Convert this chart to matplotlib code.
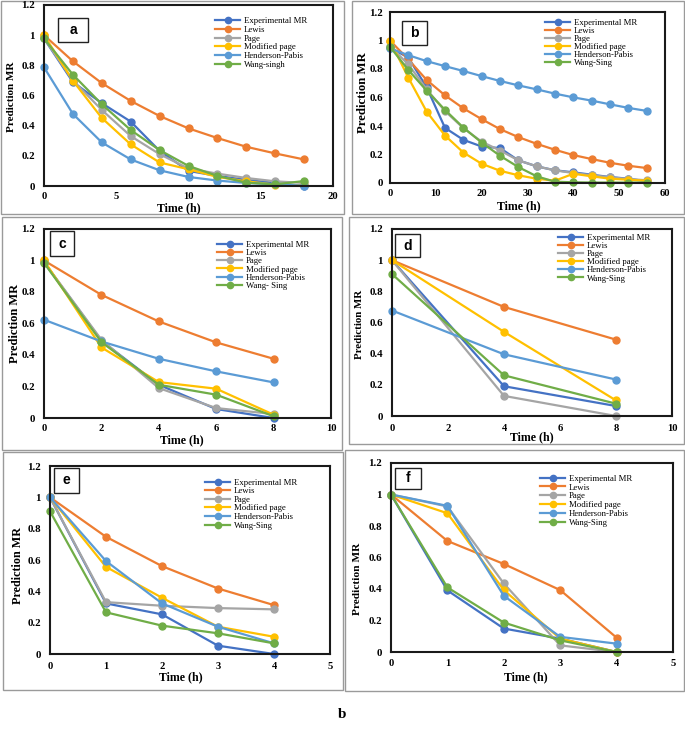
import matplotlib
matplotlib.use("Agg")
import matplotlib.pyplot as plt
from matplotlib.patches import Rectangle

# ---------------- data ----------------
series_names = ["Experimental MR", "Lewis", "Page", "Modified page", "Henderson-Pabis"]
wang_names = {"a": "Wang-singh", "b": "Wang-Sing", "c": "Wang- Sing",
              "d": "Wang-Sing", "e": "Wang-Sing", "f": "Wang-Sing"}
colors = ["#4472C4", "#ED7D31", "#A5A5A5", "#FFC000", "#5B9BD5", "#70AD47"]

time_a = [0, 2, 4, 6, 8, 10, 12, 14, 16, 18]
exp_a = [0.978, 0.689, 0.549, 0.427, 0.233, 0.100, 0.067, 0.040, 0.020, 0.000]
lewis_a = [1.000, 0.827, 0.682, 0.564, 0.464, 0.382, 0.318, 0.260, 0.216, 0.176]
page_a = [0.980, 0.700, 0.504, 0.331, 0.211, 0.116, 0.082, 0.053, 0.031, 0.020]
modpage_a = [1.000, 0.698, 0.451, 0.276, 0.156, 0.111, 0.060, 0.031, 0.009, 0.004]
hp_a = [0.787, 0.478, 0.289, 0.176, 0.104, 0.060, 0.036, 0.020, 0.011, 0.002]
wang_a = [0.978, 0.738, 0.542, 0.371, 0.238, 0.133, 0.067, 0.022, 0.011, 0.033]

time_b = [0, 4, 8, 12, 16, 20, 24, 28, 32, 36, 40, 44, 48, 52, 56]
exp_b = [0.950, 0.880, 0.671, 0.387, 0.303, 0.256, 0.245, 0.159, 0.117, 0.089, 0.075, 0.058, 0.042, 0.030, 0.012]
lewis_b = [1.000, 0.867, 0.723, 0.615, 0.524, 0.448, 0.378, 0.322, 0.275, 0.233, 0.196, 0.168, 0.142, 0.121, 0.105]
page_b = [0.960, 0.832, 0.657, 0.505, 0.385, 0.290, 0.228, 0.159, 0.117, 0.089, 0.070, 0.054, 0.040, 0.028, 0.019]
modpage_b = [1.000, 0.739, 0.501, 0.333, 0.214, 0.135, 0.086, 0.054, 0.030, 0.016, 0.065, 0.047, 0.030, 0.023, 0.016]
hp_b = [0.944, 0.897, 0.855, 0.820, 0.786, 0.750, 0.716, 0.685, 0.657, 0.627, 0.601, 0.578, 0.552, 0.527, 0.506]
wang_b = [0.956, 0.793, 0.648, 0.513, 0.389, 0.284, 0.191, 0.112, 0.047, 0.009, 0.005, 0.003, 0.003, 0.003, 0.003]

time_c = [0, 2, 4, 6, 8]
exp_c = [0.990, 0.490, 0.211, 0.057, 0.000]
lewis_c = [1.000, 0.782, 0.613, 0.480, 0.376]
page_c = [0.990, 0.497, 0.190, 0.063, 0.025]
modpage_c = [1.000, 0.448, 0.228, 0.186, 0.021]
hp_c = [0.624, 0.486, 0.376, 0.296, 0.226]
wang_c = [0.985, 0.482, 0.211, 0.148, 0.011]

time_d = [0, 4, 8]
exp_d = [1.000, 0.191, 0.064]
lewis_d = [1.000, 0.700, 0.490]
page_d = [1.000, 0.129, 0.000]
modpage_d = [1.000, 0.540, 0.100]
hp_d = [0.677, 0.396, 0.234]
wang_d = [0.911, 0.261, 0.079]

time_e = [0, 1, 2, 3, 4]
exp_e = [1.000, 0.323, 0.253, 0.053, 0.000]
lewis_e = [1.000, 0.748, 0.561, 0.418, 0.312]
page_e = [1.000, 0.331, 0.308, 0.293, 0.285]
modpage_e = [1.000, 0.556, 0.359, 0.174, 0.110]
hp_e = [1.000, 0.593, 0.323, 0.174, 0.068]
wang_e = [0.911, 0.266, 0.181, 0.132, 0.068]

time_f = [0, 1, 2, 3, 4]
exp_f = [1.000, 0.391, 0.149, 0.085, 0.000]
lewis_f = [1.000, 0.705, 0.559, 0.393, 0.091]
page_f = [1.000, 0.924, 0.435, 0.042, 0.000]
modpage_f = [1.000, 0.881, 0.393, 0.085, 0.000]
hp_f = [1.000, 0.928, 0.357, 0.096, 0.053]
wang_f = [1.000, 0.410, 0.187, 0.074, 0.000]

yticks = [0, 0.2, 0.4, 0.6, 0.8, 1.0, 1.2]
ytick_labels = ["0", "0.2", "0.4", "0.6", "0.8", "1", "1.2"]
xticks = {"a": [0, 5, 10, 15, 20], "b": [0, 10, 20, 30, 40, 50, 60],
          "c": [0, 2, 4, 6, 8, 10], "d": [0, 2, 4, 6, 8, 10],
          "e": [0, 1, 2, 3, 4, 5], "f": [0, 1, 2, 3, 4, 5]}

panels = {
    "a": (time_a, [exp_a, lewis_a, page_a, modpage_a, hp_a, wang_a]),
    "b": (time_b, [exp_b, lewis_b, page_b, modpage_b, hp_b, wang_b]),
    "c": (time_c, [exp_c, lewis_c, page_c, modpage_c, hp_c, wang_c]),
    "d": (time_d, [exp_d, lewis_d, page_d, modpage_d, hp_d, wang_d]),
    "e": (time_e, [exp_e, lewis_e, page_e, modpage_e, hp_e, wang_e]),
    "f": (time_f, [exp_f, lewis_f, page_f, modpage_f, hp_f, wang_f]),
}

# ---------------- layout (pixels) ----------------
W, H = 685, 732
SERIF = "Liberation Serif"

layout = {
    "a": dict(box=(1, 1, 344, 214), ax=(44, 5, 333, 186), lab=(58, 18, 88, 42),
              leg=(215, 20.7), lsp=0.064, yl=(12, 97), xl=(179, 208), yls=8.0, xpad=4.0),
    "b": dict(box=(352, 1, 684, 214), ax=(390, 12, 665, 183), lab=(402, 21, 427, 45),
              leg=(545, 22.7), lsp=-0.016, yl=(363, 93), xl=(519, 206), yls=9.2, xpad=4.0),
    "c": dict(box=(2, 217, 342, 450), ax=(44, 229, 331, 418), lab=(50, 231, 74, 256),
              leg=(217, 244), lsp=0.02, yl=(15, 323), xl=(182, 440), yls=9.0, xpad=4.5),
    "d": dict(box=(349, 217, 684, 444), ax=(392, 229, 672, 416), lab=(395, 234, 420, 257),
              leg=(558, 237), lsp=0.007, yl=(360, 324), xl=(532, 437), yls=7.8, xpad=5.5),
    "e": dict(box=(3, 452, 343, 690), ax=(50, 466, 330, 654), lab=(54, 468, 79, 493),
              leg=(205, 482), lsp=0.053, yl=(18, 565), xl=(181, 677), yls=8.7, xpad=5.5),
    "f": dict(box=(345, 450, 684, 691), ax=(391, 463, 673, 652), lab=(395, 468, 421, 489),
              leg=(540, 478), lsp=0.087, yl=(357, 579), xl=(526, 677), yls=8.2, xpad=5.0),
}

fig = plt.figure(figsize=(W / 100, H / 100), dpi=100)
fig.patch.set_facecolor("white")


def fx(px):
    return px / W


def fy(py):
    return 1 - py / H


for key, (t, ys) in panels.items():
    L = layout[key]
    bx0, by0, bx1, by1 = L["box"]
    fig.add_artist(Rectangle((fx(bx0), fy(by1)), fx(bx1) - fx(bx0), fy(by0) - fy(by1),
                             transform=fig.transFigure, fill=False,
                             edgecolor="#9a9a9a", linewidth=1.0, zorder=0))
    x0, y0, x1, y1 = L["ax"]
    ax = fig.add_axes([fx(x0), fy(y1), fx(x1) - fx(x0), fy(y0) - fy(y1)])
    aw, ah = x1 - x0, y1 - y0
    names = series_names + [wang_names[key]]
    for vals, name, col in zip(ys, names, colors):
        ax.plot(t, vals, color=col, linewidth=1.6, marker="o", markersize=5,
                markerfacecolor=col, markeredgecolor=col, label=name, clip_on=False)
    xt = xticks[key]
    ax.set_xlim(xt[0], xt[-1])
    ax.set_ylim(0, 1.2)
    ax.set_xticks(xt)
    ax.set_xticklabels([str(v) for v in xt], fontfamily=SERIF, fontweight="bold", fontsize=7.6)
    ax.set_yticks(yticks)
    ax.set_yticklabels(ytick_labels, fontfamily=SERIF, fontweight="bold", fontsize=7.8)
    ax.tick_params(axis="both", length=0)
    ax.tick_params(axis="x", pad=L["xpad"])
    ax.tick_params(axis="y", pad=6.5 if key != "b" else 5)
    for sp in ax.spines.values():
        sp.set_color("#1a1a1a")
        sp.set_linewidth(1.5)
    ax.set_ylabel("Prediction MR", fontfamily=SERIF, fontweight="bold", fontsize=L["yls"], va="center")
    ax.yaxis.set_label_coords((L["yl"][0] - x0) / aw, 1 - (L["yl"][1] - y0) / ah)
    ax.set_xlabel("Time (h)", fontfamily=SERIF, fontweight="bold", fontsize=8.6, va="center")
    ax.xaxis.set_label_coords((L["xl"][0] - x0) / aw, 1 - (L["xl"][1] - y0) / ah)

    # legend
    lx, ly = L["leg"]
    ax.legend(loc="upper left", bbox_to_anchor=((lx - x0) / aw, 1 - (ly - 3.5 - y0) / ah),
              frameon=False, prop={"family": SERIF, "size": 6.3}, labelspacing=L["lsp"],
              handlelength=2.9, handletextpad=0.4, borderpad=0, borderaxespad=0,
              markerscale=0.9)

    # panel letter box
    lb0, lt0, lb1, lt1 = L["lab"]
    fig.add_artist(Rectangle((fx(lb0), fy(lt1)), fx(lb1) - fx(lb0), fy(lt0) - fy(lt1),
                             transform=fig.transFigure, facecolor="white",
                             edgecolor="#222222", linewidth=1.0, zorder=5))
    fig.text(fx((lb0 + lb1) / 2), fy((lt0 + lt1) / 2), key, ha="center", va="center",
             fontfamily="Liberation Sans", fontweight="bold", fontsize=10, zorder=6)

fig.text(fx(342), fy(715), "b", ha="center", va="center", fontfamily=SERIF,
         fontweight="bold", fontsize=11)

fig.savefig("out.png", dpi=100)
